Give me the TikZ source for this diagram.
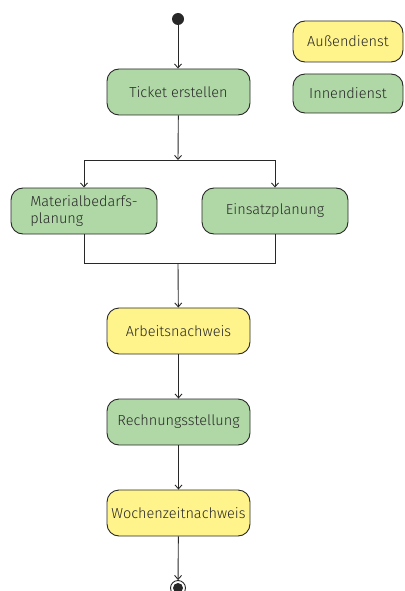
\documentclass[tikz,border=0pt]{standalone}
\usepackage{fontspec}
\setmainfont{Fira Sans Light}
\usepackage{tikz}
\usetikzlibrary{arrows.meta, positioning}

\definecolor{innen}{RGB}{176,216,166}
\definecolor{aussen}{RGB}{255,243,140}
\definecolor{linie}{RGB}{40,40,40}

\tikzset{
  act/.style={draw=linie, rounded corners=12pt, minimum width=143pt, minimum height=46pt,
    font=\fontsize{14.5}{17}\selectfont, text=linie, line width=0.9pt},
  actin/.style={act, fill=innen},
  actout/.style={act, fill=aussen},
  flow/.style={draw=linie, line width=0.9pt},
  >={Straight Barb[length=4pt,width=7pt]}
}

\begin{document}
\begin{tikzpicture}[x=1pt,y=-1pt]
\useasboundingbox (0,0) rectangle (404,591);

\node[circle, fill=linie, minimum size=12pt, inner sep=0pt] (start) at (178,19) {};

\node[actin] (ticket) at (178.5,92) {Ticket erstellen};

\node[actin, minimum width=146pt, align=left] (material) at (84,211) {Materialbedarfs-\\planung};
\node[actin, minimum width=146pt] (einsatz) at (275,211) {Einsatzplanung};

\node[actout] (arbeit) at (178.5,331) {Arbeitsnachweis};
\node[actin] (rechnung) at (178.5,422) {Rechnungsstellung};
\node[actout] (woche) at (178.5,513) {Wochenzeitnachweis};

\node[circle, draw=linie, line width=0.9pt, minimum size=15pt, inner sep=0pt,
  path picture={\fill[linie] (path picture bounding box.center) circle (5pt);}] (ende) at (178,588) {};

\node[actout, minimum width=110pt, minimum height=41pt] (legaussen) at (348,41.5) {Außendienst};
\node[actin, minimum width=110pt, minimum height=39pt] (leginnen) at (348,93.5) {Innendienst};

\coordinate (fork) at (178,160);
\coordinate (join) at (178,263);

\draw[flow,->] (start) -- (start |- ticket.north);
\draw[flow,->] (ticket) -- (fork);
\draw[flow,->] (fork) -| (material);
\draw[flow,->] (fork) -| (einsatz);
\draw[flow] (material) |- (join);
\draw[flow] (einsatz) |- (join);
\draw[flow,->] (join) -- (arbeit);
\draw[flow,->] (arbeit) -- (rechnung);
\draw[flow,->] (rechnung) -- (woche);
\draw[flow,->] (woche) -- (ende);
\end{tikzpicture}
\end{document}
